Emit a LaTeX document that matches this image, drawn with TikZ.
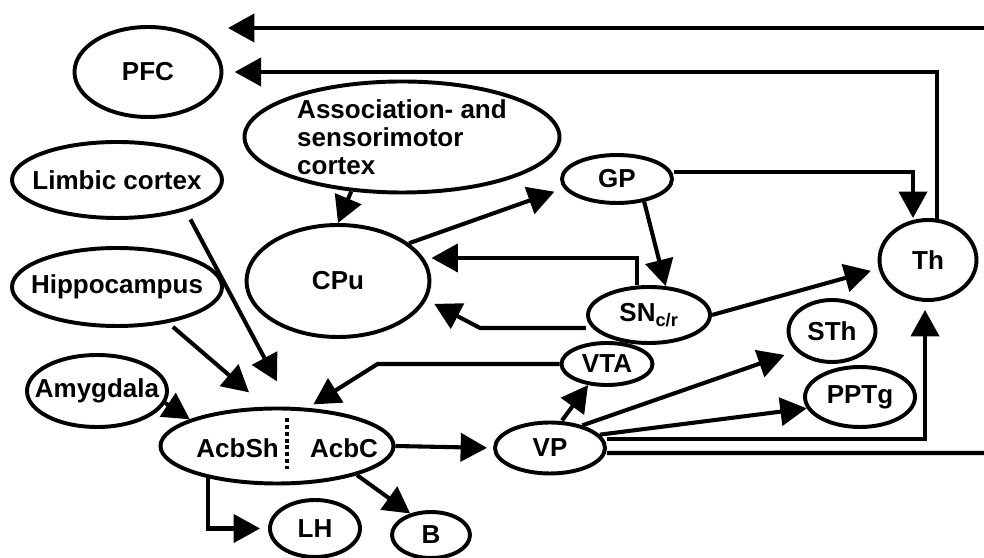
\documentclass[tikz,border=0pt]{standalone}
\usepackage{fontspec}
\setmainfont{Liberation Sans}
\usetikzlibrary{arrows.meta, shapes.geometric}

\begin{document}
\begin{tikzpicture}[
  reg/.style ={draw, ellipse, line width=2.8pt, inner sep=0pt, align=center,
               font=\bfseries\fontsize{18.5}{20}\selectfont},
  txt/.style ={inner sep=0pt, font=\bfseries\fontsize{18.5}{20}\selectfont},
  arr/.style ={-{Triangle[length=0.66cm, width=0.7cm]}, line width=2.9pt},
  sep/.style ={line width=2.6pt, dash pattern=on 0.1cm off 0.07cm},
]
\useasboundingbox (0,0) rectangle (24.6,13.95);

%% ---- Nodes ----
\node[reg, minimum width=3.675cm, minimum height=2.25cm]  (PFC)    at ( 3.70, 12.15)  {PFC};
\node[reg, minimum width=7.875cm, minimum height=2.775cm, align=left]
                                                          (Assoc)  at (10.05, 10.525) {Association- and\\sensorimotor\\cortex};
\node[reg, minimum width=5.25cm,  minimum height=1.9cm]   (Limbic) at ( 2.925, 9.45)  {\makebox[0pt]{Limbic cortex}};
\node[reg, minimum width=5.25cm,  minimum height=1.95cm]  (Hippo)  at ( 2.925, 6.775) {\makebox[0pt]{Hippocampus}};
\node[reg, minimum width=3.5cm,   minimum height=1.8cm]   (Amyg)   at ( 2.425, 4.175) {\makebox[0pt]{Amygdala}};
\node[reg, minimum width=5.825cm, minimum height=1.875cm] (Acb)    at ( 6.925, 2.8)   {};
\node[txt]                                                (Sh)     at ( 5.94,  2.75)  {AcbSh};
\node[txt]                                                (C)      at ( 8.6,   2.75)  {AcbC};
\node[reg, minimum width=2.25cm,  minimum height=1.425cm] (LH)     at ( 7.875, 0.7375){LH};
\node[reg, minimum width=1.95cm,  minimum height=1.15cm]  (B)      at (10.775, 0.575) {B};
\node[reg, minimum width=4.575cm, minimum height=2.8cm]   (CPu)    at ( 8.45,  6.925) {CPu};
\node[reg, minimum width=2.75cm,  minimum height=1.2cm]   (GP)     at (15.425, 9.475) {GP};
\node[reg, minimum width=3.05cm,  minimum height=1.4cm]   (SN)     at (16.225, 6.075) {SN\textsubscript{c/r}};
\node[reg, minimum width=2.275cm, minimum height=1.05cm]  (VTA)    at (15.175, 4.85)  {VTA};
\node[reg, minimum width=2.75cm,  minimum height=1.275cm] (VP)     at (13.75,  2.75)  {VP};
\node[reg, minimum width=2.175cm, minimum height=1.55cm]  (STh)    at (20.8,   5.675) {STh};
\node[reg, minimum width=2.75cm,  minimum height=1.5cm]   (PPTg)   at (21.5,   4.025) {PPTg};
\node[reg, minimum width=2.425cm, minimum height=2.0cm]   (Th)     at (23.2,   7.45)  {Th};

\coordinate (inR)  at (24.6, 13.25);
\coordinate (inL)  at ( 5.7, 13.25);
\coordinate (outR) at (24.6, 2.625);

%% ---- shell / core border ----
\draw[sep] ([xshift=0.25cm]Acb.north) -- ([xshift=0.25cm]Acb.south)
  [shorten <=0.29cm, shorten >=0.41cm];

%% ---- loops back to PFC ----
\draw[arr] (inR) -- (inL);
\draw[arr, shorten >=0.28cm] (Th.78) |- (PFC.east);

%% ---- striatum / pallidum ----
\draw[arr] (Assoc.227) -- (CPu.north);
\draw[arr, shorten >=0.25cm] (CPu.28) -- (GP.190);
\draw[arr] ([yshift=0.175cm]GP.east) -| ([xshift=-0.375cm]Th.north);
\draw[arr] (GP.320) -- (SN.60);
\draw[arr] ([xshift=-0.3cm]SN.north) |- ([yshift=0.575cm]CPu.east);
\draw[arr, shorten >=0.22cm] ([yshift=-0.325cm]SN.west) -- ++(-2.65,0) -- (CPu.-12);
\draw[arr, shorten >=0.2cm] (SN.east) -- (Th.190);

%% ---- inputs to Acb ----
\draw[arr, shorten <=0.25cm, shorten >=0.72cm] (Limbic.-24) -- (Acb.71);
\draw[arr, shorten <=0.15cm, shorten >=0.55cm] (Hippo.-35)  -- (Acb.106);
\draw[arr] (Amyg.-10) -- (Acb.163);
\draw[arr, shorten >=0.1cm] (VTA.west) -- ++(-4.55,0) -- ([xshift=0.825cm]Acb.north);

%% ---- Acb outputs ----
\draw[arr, shorten >=0.15cm] (Acb.east) -- (VP.west);
\draw[arr, shorten >=0.2cm] (Acb.205) |- (LH.west);
\draw[arr] (Acb.-20) -- (B.134);

%% ---- VP outputs ----
\draw[arr] ([xshift=0.3cm]VP.north) -- (VTA.228);
\draw[arr, shorten >=0.3cm] (VP.35) -- (STh.209);
\draw[arr] (VP.15) -- (PPTg.192);
\draw[arr, shorten >=0.2cm] ([yshift=0.225cm]VP.east) -| ([xshift=-0.075cm]Th.south);
\draw[line width=2.9pt] ([yshift=-0.125cm]VP.east) -- (outR);

\end{tikzpicture}
\end{document}
